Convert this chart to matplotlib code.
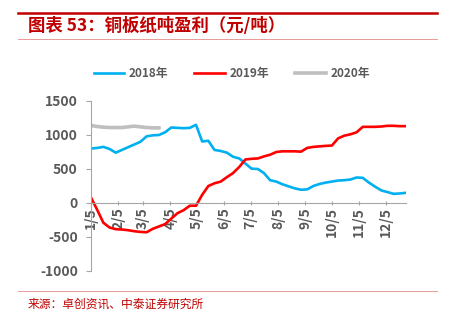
import numpy as np
import pandas as pd
import matplotlib
matplotlib.use("Agg")
import matplotlib.pyplot as plt
from matplotlib.lines import Line2D

plt.rcParams['font.family'] = ['Noto Sans CJK SC', 'DejaVu Sans']
plt.rcParams['axes.unicode_minus'] = False

# 周度数据（按2018年日期轴对齐）
weeks = pd.date_range("2018-01-05", periods=52, freq="7D")

y2018 = [800, 810, 825, 795, 740, 780, 820, 860, 900, 980, 995, 1000, 1040,
         1110, 1105, 1100, 1105, 1150, 905, 915, 780, 765, 740, 680, 655, 580,
         505, 500, 440, 335, 315, 275, 245, 215, 195, 200, 250, 280, 300, 315,
         330, 335, 345, 375, 370, 300, 240, 185, 160, 135, 140, 150]
y2019 = [80, -100, -290, -360, -385, -390, -400, -415, -425, -430, -380, -345,
         -310, -230, -150, -105, -40, -40, 120, 250, 290, 315, 380, 440, 530,
         640, 650, 655, 685, 710, 750, 760, 760, 760, 755, 810, 825, 833, 840,
         845, 950, 990, 1010, 1040, 1120, 1120, 1120, 1125, 1135, 1135, 1130,
         1130]
y2020 = [1140, 1125, 1115, 1110, 1110, 1110, 1120, 1130, 1120, 1110, 1105, 1105]

month_ticks = pd.date_range("2018-01-05", periods=12, freq=pd.DateOffset(months=1))
tick_labels = [f"{d.month}/5" for d in month_ticks]

W, H = 452, 326
fig = plt.figure(figsize=(W / 100, H / 100), dpi=100)

# 标题区
fig.add_artist(Line2D([18 / W, 437 / W], [1 - 13 / H, 1 - 13 / H], color="#C00000", lw=1.8))
fig.text(28 / W, 1 - 26 / H, "图表 53：铜板纸吨盈利（元/吨）", color="#C00000",
         fontsize=12.5, fontweight="bold", va="center", ha="left")
fig.add_artist(Line2D([18 / W, 437 / W], [1 - 39 / H, 1 - 39 / H], color="#E89A9A", lw=0.7))
fig.add_artist(Line2D([18 / W, 437 / W], [1 - 291 / H, 1 - 291 / H], color="#E89A9A", lw=0.7))
fig.text(28 / W, 1 - 304 / H, "来源：卓创资讯、中泰证券研究所", color="#C00000",
         fontsize=8.5, va="center", ha="left")

ax = fig.add_axes([91 / W, 1 - 271 / H, (406 - 91) / W, (271 - 101) / H])
ax.plot(weeks, y2018, color="#00B0F0", lw=1.9, label="2018年", solid_joinstyle="round")
ax.plot(weeks, y2019, color="#FF0000", lw=1.9, label="2019年", solid_joinstyle="round")
ax.plot(weeks[:len(y2020)], y2020, color="#BFBFBF", lw=2.6, label="2020年", solid_joinstyle="round")

ax.set_ylim(-1000, 1500)
ax.set_yticks([-1000, -500, 0, 500, 1000, 1500])
ax.set_xlim(weeks[0], weeks[-1])
ax.set_xticks(month_ticks)
ax.set_xticklabels(tick_labels)

for s in ["top", "right"]:
    ax.spines[s].set_visible(False)
ax.spines["bottom"].set_position(("data", 0))
ax.spines["bottom"].set_color("#A6A6A6")
ax.spines["left"].set_color("#A6A6A6")
ax.tick_params(axis="y", colors="#A6A6A6", labelcolor="#595959", labelsize=10, length=3.5,
               pad=6)
ax.tick_params(axis="x", colors="#A6A6A6", labelcolor="#595959", labelsize=10, length=3,
               direction="inout", pad=1.5, labelrotation=90)
for t in ax.get_yticklabels() + ax.get_xticklabels():
    t.set_fontweight("bold")
for t in ax.get_xticklabels():
    t.set_va("top")
    t.set_ha("center")

leg = fig.legend(loc="center", bbox_to_anchor=(232 / W, 1 - 74 / H), ncol=3, frameon=False,
                 handlelength=2.6, columnspacing=2.2, handletextpad=0.4,
                 prop={"size": 8.5, "weight": "bold"})
for t in leg.get_texts():
    t.set_color("#595959")

fig.savefig("out.png", dpi=100)
